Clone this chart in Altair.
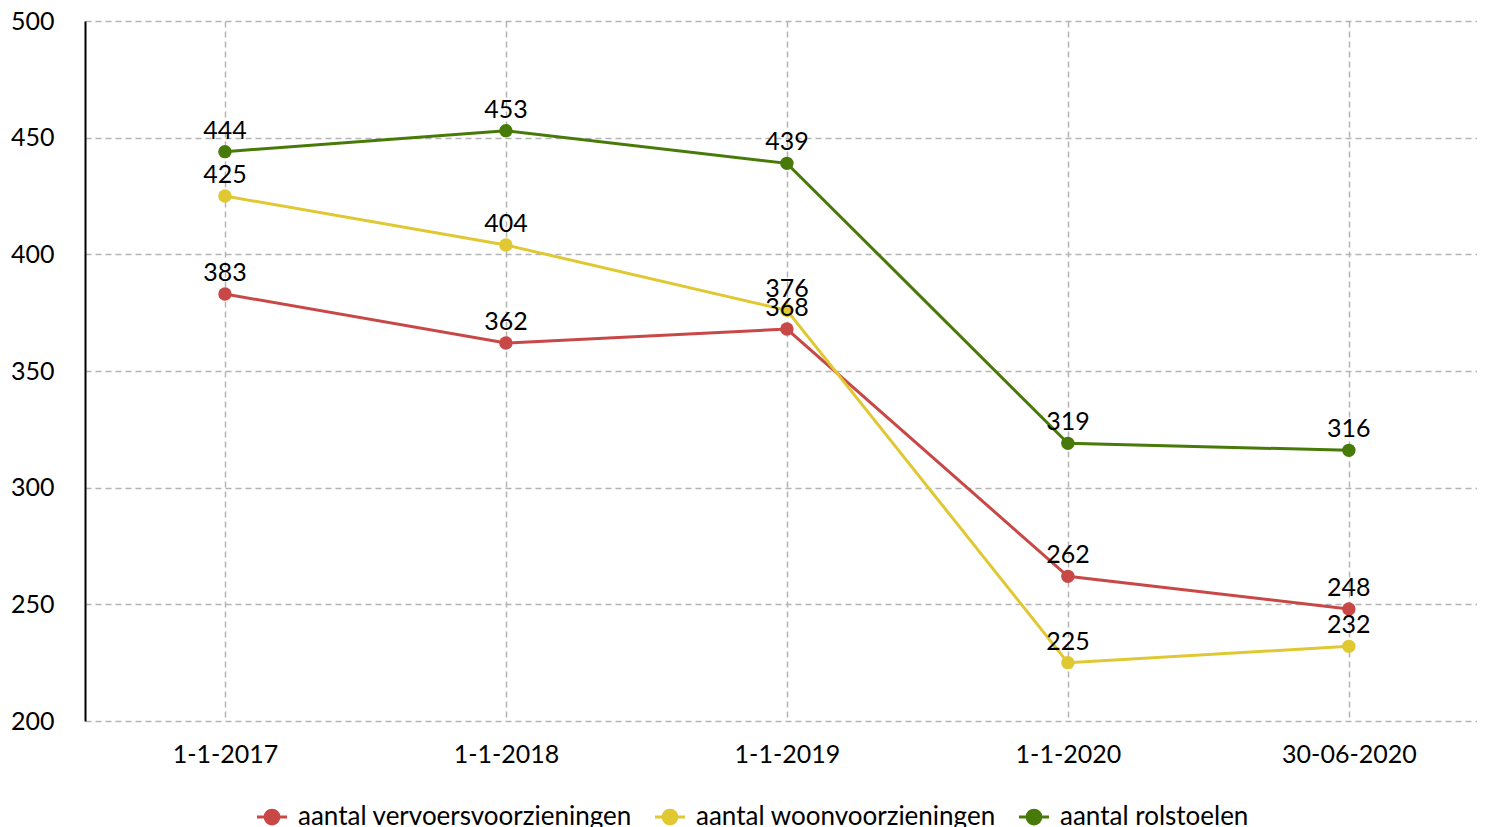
import altair as alt
import pandas as pd

categories = ["1-1-2017", "1-1-2018", "1-1-2019", "1-1-2020", "30-06-2020"]
series_names = ["aantal vervoersvoorzieningen", "aantal woonvoorzieningen", "aantal rolstoelen"]
vervoer = [383, 362, 368, 262, 248]
woon = [425, 404, 376, 225, 232]
rolstoel = [444, 453, 439, 319, 316]
colors = ["#C84848", "#E0C832", "#487A0A"]

rows = []
for name, vals in zip(series_names, [vervoer, woon, rolstoel]):
    for i, (c, v) in enumerate(zip(categories, vals)):
        rows.append({"idx": i, "datum": c, "serie": name, "waarde": v})
df = pd.DataFrame(rows)

FONT = "Lato"
FS = 25

label_expr = "[" + ",".join(f"'{c}'" for c in categories) + "][datum.value]"

x = alt.X("idx:Q", title=None,
          scale=alt.Scale(domain=[-0.498, 4.456], nice=False, zero=False),
          axis=alt.Axis(values=list(range(len(categories))), labelExpr=label_expr,
                        labelAngle=0, labelFontSize=FS, labelFont=FONT, labelColor="#000",
                        grid=True, gridDash=[6, 4], gridColor="#b4b4b4", gridWidth=1.5,
                        ticks=False, domain=False, labelPadding=21, labelFlush=False,
                        labelOverlap=False))
y = alt.Y("waarde:Q", title=None,
          scale=alt.Scale(domain=[200, 500], nice=False, zero=False),
          axis=alt.Axis(values=[200, 250, 300, 350, 400, 450, 500], labelFontSize=FS,
                        labelFont=FONT, labelColor="#000", grid=True, gridDash=[6, 4],
                        gridColor="#b4b4b4", gridWidth=1.5, ticks=False, domain=True,
                        domainColor="#000", domainWidth=2, labelPadding=31))
color = alt.Color("serie:N", sort=series_names, title=None,
                  scale=alt.Scale(domain=series_names, range=colors),
                  legend=alt.Legend(orient="none", direction="horizontal", legendX=173, legendY=782,
                                    labelFont=FONT, labelFontSize=26, labelColor="#000", labelLimit=0,
                                    symbolType="M-1.2,0 L1.2,0 M-0.55,0 A0.55,0.55 0 1,1 0.55,0 A0.55,0.55 0 1,1 -0.55,0 Z",
                                    symbolSize=625, symbolStrokeWidth=3, columnPadding=17,
                                    labelOffset=12))

base = alt.Chart(df).encode(x=x, y=y)
lines = base.mark_line(strokeWidth=3).encode(color=color)
points = base.mark_point(filled=True, size=180, opacity=1).encode(color=color)
labels = base.mark_text(font=FONT, fontSize=FS, color="#000", baseline="bottom", dy=-8).encode(
    text="waarde:Q")

chart = (lines + points + labels).properties(
    width=1392, height=700,
    autosize=alt.AutoSizeParams(type="none"),
    padding={"left": 77, "top": 13, "right": 0, "bottom": 110},
).configure_view(stroke=None)

chart.save("out.html", embed_options={"renderer": "svg", "actions": False})
